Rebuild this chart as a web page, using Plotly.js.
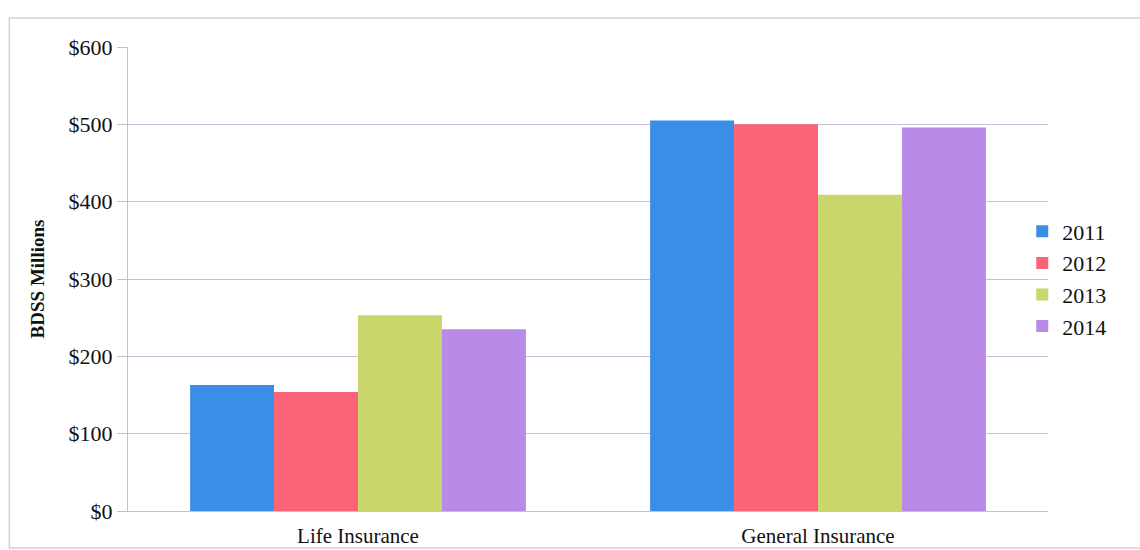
<!DOCTYPE html>
<html><head><meta charset="utf-8">
<script src="https://cdn.plot.ly/plotly-3.0.1.min.js"></script>
<style>html,body{margin:0;padding:0;background:#fff;}#chart{width:1140px;height:550px;}</style>
</head><body><div id="chart"></div>
<script>
const categories = ["Life Insurance", "General Insurance"];
const years = ["2011", "2012", "2013", "2014"];
const v2011 = [163, 505];
const v2012 = [154, 500];
const v2013 = [253, 409];
const v2014 = [235, 496];
const tickVals = [0, 100, 200, 300, 400, 500, 600];
const tickText = ["$0", "$100", "$200", "$300", "$400", "$500", "$600"];

const seriesValues = [v2011, v2012, v2013, v2014];
const colors = ["#3b8ee8", "#fb6478", "#c8d66b", "#b98ae6"];

const traces = years.map((y, i) => ({
  type: "bar", name: y, x: categories, y: seriesValues[i],
  marker: {color: colors[i], line: {width: 0}}
}));

const serif = "'Liberation Serif', 'Times New Roman', serif";
const gridCol = "#cbbcd6";
const layout = {
  width: 1140, height: 550,
  margin: {l: 128, r: 92, t: 47, b: 39},
  paper_bgcolor: "#ffffff", plot_bgcolor: "#ffffff",
  font: {family: serif, color: "#111", size: 21},
  barmode: "group", bargap: 0.27, bargroupgap: 0,
  showlegend: true,
  legend: {x: 0.972, xanchor: "left", y: 0.5, yanchor: "middle",
    font: {family: serif, size: 22, color: "#111"},
    itemwidth: 30, tracegroupgap: 0, bgcolor: "rgba(0,0,0,0)"},
  xaxis: {tickfont: {family: serif, size: 21}, showline: true, linecolor: gridCol, linewidth: 1,
    ticks: "outside", ticklen: 6, tickcolor: "rgba(0,0,0,0)", showgrid: false, fixedrange: true},
  yaxis: {range: [0, 600], tickvals: tickVals, ticktext: tickText,
    tickfont: {family: serif, size: 22}, showgrid: true, gridcolor: gridCol, gridwidth: 1,
    showline: true, linecolor: gridCol, ticks: "outside", ticklen: 10, tickcolor: gridCol,
    zeroline: false,
    title: {text: "<b>BDSS Millions</b>", font: {size: 19, family: serif}, standoff: 18}},
  shapes: [{type: "rect", xref: "paper", yref: "paper",
    x0: -0.129, x1: 1.2, y0: -0.08, y1: 1.0625,
    line: {color: "#d4d0dc", width: 1.5}, fillcolor: "rgba(0,0,0,0)", layer: "below"}]
};
Plotly.newPlot("chart", traces, layout, {displayModeBar: false, staticPlot: true});
</script></body></html>
